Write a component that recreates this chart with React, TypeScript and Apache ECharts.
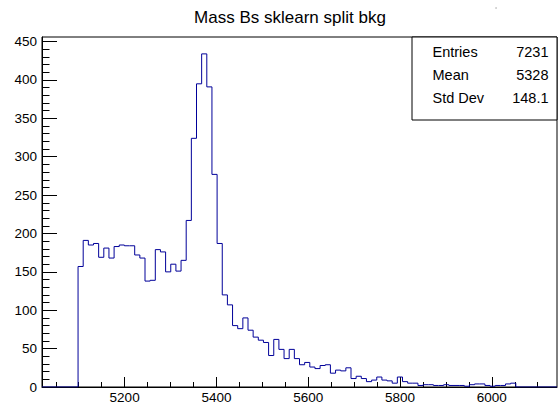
import React, { useEffect, useRef } from "react";
import * as echarts from "echarts";

const chartTitle = "Mass Bs sklearn split bkg";
const xMin = 5020;
const xMax = 6142;
const binWidth = 11.22;
const firstBin = 7;
const counts = [
  157, 191, 185, 187, 169, 181, 168, 183, 185, 184, 184, 172, 168, 138, 139, 179, 176, 150, 160, 151, 165,
  217, 324, 395, 434, 391, 277, 187, 120, 107, 80, 76,
  90, 74, 65, 61, 58, 41, 62, 49, 37, 49, 37, 29, 32, 26, 24, 28, 29, 18, 22, 21, 25, 11, 14, 11, 7, 9, 13,
  9, 8, 5, 13, 7, 5, 5, 2, 3, 3, 2, 2, 3, 2, 2, 2, 1, 3, 4, 4, 2, 1, 2, 2, 4, 5,
];
const yMax = 456;
const xMajorTicks = [5200, 5400, 5600, 5800, 6000];
const xMinorTicks = [5050, 5100, 5150, 5250, 5300, 5350, 5450, 5500, 5550, 5650, 5700, 5750, 5850, 5900, 5950, 6050, 6100];
const yMajorTicks = [0, 50, 100, 150, 200, 250, 300, 350, 400, 450];
const yMinorStep = 10;
const statsLabels = ["Entries", "Mean", "Std Dev"];
const statsValues = ["7231", "5328", "148.1"];

const FONT = "'Liberation Sans', Arial, Helvetica, sans-serif";

export default function App() {
  const ref = useRef<HTMLDivElement>(null);
  useEffect(() => {
    if (!ref.current) return;
    const chart = echarts.init(ref.current, undefined, { renderer: "svg" });

    const pts: number[][] = [[xMin, 0]];
    counts.forEach((c, i) => {
      const x0 = xMin + (firstBin + i) * binWidth;
      if (i === 0) pts.push([x0, 0]);
      pts.push([x0, c], [x0 + binWidth, c]);
    });
    const xEnd = xMin + (firstBin + counts.length) * binWidth;
    pts.push([xEnd, 0], [xMax, 0]);

    const yMinor: number[] = [];
    for (let v = 0; v <= 450; v += yMinorStep) yMinor.push(v);

    const labelStyle = { color: "#000", fontSize: 13.5, fontFamily: FONT, formatter: (v: number) => String(v) };

    const statsGraphics: any[] = [
      {
        type: "rect",
        shape: { x: 412, y: 37, width: 145, height: 83 },
        style: { fill: "#fff", stroke: "#000", lineWidth: 1 },
        z: 10,
      },
    ];
    statsLabels.forEach((lab, i) => {
      const y = 51.7 + i * 23.3;
      statsGraphics.push({
        type: "text",
        x: 432.5,
        y,
        z: 11,
        style: { text: lab, fill: "#000", fontSize: 14.5, fontFamily: FONT, align: "left", verticalAlign: "middle" },
      });
      statsGraphics.push({
        type: "text",
        x: 548.5,
        y,
        z: 11,
        style: { text: statsValues[i], fill: "#000", fontSize: 14.5, fontFamily: FONT, align: "right", verticalAlign: "middle" },
      });
    });

    chart.setOption({
      animation: false,
      backgroundColor: "#fff",
      grid: { left: 42, right: 3, top: 37, bottom: 20, show: true, borderColor: "#000", borderWidth: 1, containLabel: false },
      xAxis: [
        {
          type: "value",
          min: xMin,
          max: xMax,
          position: "bottom",
          axisLine: { show: true, onZero: false, lineStyle: { color: "#000", width: 1 } },
          axisTick: { show: true, inside: true, length: 10, customValues: xMajorTicks, lineStyle: { color: "#000" } },
          axisLabel: { show: true, customValues: xMajorTicks, margin: 3, ...labelStyle },
          splitLine: { show: false },
        },
        {
          type: "value",
          min: xMin,
          max: xMax,
          position: "bottom",
          axisLine: { show: false },
          axisTick: { show: true, inside: true, length: 5, customValues: xMinorTicks, lineStyle: { color: "#000" } },
          axisLabel: { show: false },
          splitLine: { show: false },
        },
      ],
      yAxis: [
        {
          type: "value",
          min: 0,
          max: yMax,
          position: "left",
          axisLine: { show: true, onZero: false, lineStyle: { color: "#000", width: 1 } },
          axisTick: { show: true, inside: true, length: 15, customValues: yMajorTicks, lineStyle: { color: "#000" } },
          axisLabel: { show: true, customValues: yMajorTicks, margin: 5, ...labelStyle },
          splitLine: { show: false },
        },
        {
          type: "value",
          min: 0,
          max: yMax,
          position: "left",
          axisLine: { show: false },
          axisTick: { show: true, inside: true, length: 7.5, customValues: yMinor, lineStyle: { color: "#000" } },
          axisLabel: { show: false },
          splitLine: { show: false },
        },
      ],
      series: [
        {
          type: "line",
          xAxisIndex: 0,
          yAxisIndex: 0,
          data: pts,
          symbol: "none",
          showSymbol: false,
          lineStyle: { color: "#000099", width: 1 },
          z: 3,
        },
      ],
      graphic: [
        {
          type: "text",
          x: 290,
          y: 17,
          style: { text: chartTitle, fill: "#000", fontSize: 17, fontFamily: FONT, align: "center", verticalAlign: "middle" },
        },
        { type: "circle", shape: { cx: 496, cy: 8, r: 0.7 }, style: { fill: "#999" } },
        ...statsGraphics,
      ],
    });
    return () => chart.dispose();
  }, []);
  return <div ref={ref} style={{ position: "fixed", left: 0, top: 0, width: 560, height: 407 }} />;
}
